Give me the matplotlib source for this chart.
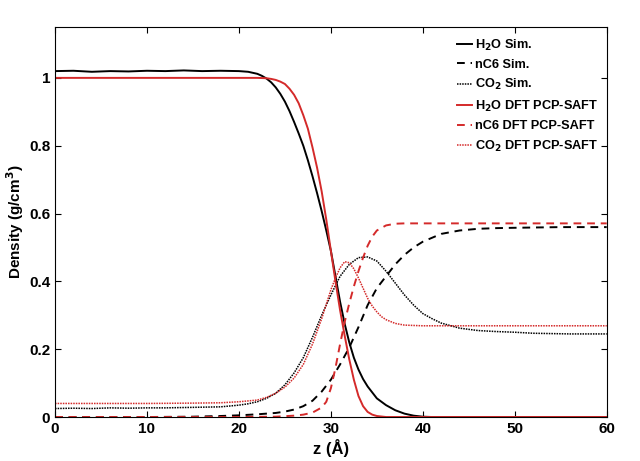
import numpy as np
import matplotlib
matplotlib.use("Agg")
import matplotlib.pyplot as plt

plt.rcParams['font.family'] = ['Liberation Sans', 'DejaVu Sans']
plt.rcParams['font.weight'] = 'bold'
plt.rcParams['mathtext.default'] = 'bf'

# H2O simulation
z_h2o_sim = [0, 2, 4, 6, 8, 10, 12, 14, 16, 18, 20, 21, 22, 22.5, 23, 23.5, 24, 24.5, 25,
             25.5, 26, 26.5, 27, 27.5, 28, 28.5, 29, 29.5, 30, 30.5, 31, 31.5, 32, 32.5, 33,
             33.5, 34, 35, 36, 37, 38, 39, 40, 41, 45, 50, 55, 60]
rho_h2o_sim = [1.02, 1.021, 1.018, 1.02, 1.019, 1.021, 1.02, 1.022, 1.02, 1.021, 1.02, 1.018,
               1.012, 1.006, 0.998, 0.987, 0.972, 0.953, 0.93, 0.902, 0.87, 0.836, 0.8, 0.757,
               0.71, 0.66, 0.607, 0.55, 0.49, 0.415, 0.34, 0.275, 0.22, 0.175, 0.14, 0.112,
               0.09, 0.055, 0.035, 0.02, 0.01, 0.004, 0.001, 0.0, 0.0, 0.0, 0.0, 0.0]

# nC6 simulation
z_nc6_sim = [0, 10, 15, 18, 20, 22, 24, 25, 26, 27, 28, 29, 30, 31, 32, 33, 34, 35, 36, 37,
             38, 39, 40, 42, 44, 46, 48, 50, 55, 60]
rho_nc6_sim = [0.0, 0.0, 0.001, 0.003, 0.005, 0.008, 0.012, 0.016, 0.022, 0.032, 0.048, 0.075,
               0.11, 0.155, 0.205, 0.265, 0.33, 0.38, 0.415, 0.45, 0.478, 0.5, 0.517, 0.54,
               0.55, 0.555, 0.557, 0.558, 0.56, 0.56]

# CO2 simulation
z_co2_sim = [0, 2, 4, 6, 8, 10, 12, 14, 16, 18, 20, 21, 22, 23, 24, 25, 26, 27, 28, 29, 30,
             31, 32, 33, 34, 35, 36, 37, 38, 39, 40, 41, 42, 44, 46, 48, 50, 52, 54, 56, 58, 60]
rho_co2_sim = [0.025, 0.026, 0.025, 0.027, 0.026, 0.027, 0.027, 0.028, 0.029, 0.03, 0.035,
               0.039, 0.045, 0.055, 0.07, 0.095, 0.13, 0.175, 0.235, 0.3, 0.36, 0.415, 0.45,
               0.47, 0.472, 0.46, 0.43, 0.395, 0.36, 0.33, 0.305, 0.29, 0.277, 0.262, 0.255,
               0.252, 0.25, 0.247, 0.246, 0.245, 0.245, 0.245]

# H2O DFT
z_h2o_dft = [0, 5, 10, 15, 20, 22, 23, 23.5, 24, 24.5, 25, 25.5, 26, 26.5, 27, 27.5, 28,
             28.5, 29, 29.5, 30, 30.5, 31, 31.5, 32, 32.5, 33, 33.5, 34, 34.5, 35, 36, 40,
             50, 60]
rho_h2o_dft = [1.0, 1.0, 1.0, 1.0, 1.0, 1.0, 0.999, 0.997, 0.994, 0.989, 0.982, 0.968, 0.95,
               0.925, 0.89, 0.85, 0.795, 0.735, 0.665, 0.582, 0.49, 0.4, 0.315, 0.24, 0.17,
               0.11, 0.062, 0.032, 0.015, 0.007, 0.003, 0.0, 0.0, 0.0, 0.0]

# nC6 DFT
z_nc6_dft = [0, 10, 20, 24, 26, 27, 28, 29, 29.5, 30, 30.5, 31, 31.5, 32, 32.5, 33, 33.5,
             34, 34.5, 35, 36, 37, 38, 40, 50, 60]
rho_nc6_dft = [0.0, 0.0, 0.0, 0.001, 0.004, 0.007, 0.013, 0.028, 0.045, 0.085, 0.145, 0.215,
               0.28, 0.335, 0.385, 0.43, 0.47, 0.505, 0.532, 0.55, 0.565, 0.57, 0.571, 0.571,
               0.571, 0.571]

# CO2 DFT
z_co2_dft = [0, 5, 10, 15, 18, 20, 22, 23, 24, 25, 26, 27, 28, 29, 30, 30.5, 31, 31.5, 32,
             32.5, 33, 33.5, 34, 34.5, 35, 35.5, 36, 37, 38, 40, 45, 50, 55, 60]
rho_co2_dft = [0.04, 0.04, 0.04, 0.041, 0.042, 0.045, 0.05, 0.058, 0.07, 0.088, 0.115, 0.155,
               0.215, 0.29, 0.375, 0.41, 0.44, 0.458, 0.455, 0.437, 0.41, 0.38, 0.35, 0.327,
               0.31, 0.296, 0.287, 0.276, 0.271, 0.269, 0.269, 0.269, 0.269, 0.269]

red = '#d42a2a'
dots = (0, (1, 0.7))

fig = plt.figure(figsize=(6.4, 4.61), dpi=100)
ax = fig.add_axes([0.086, 0.0954, 0.862, 0.846])

ax.plot(z_h2o_sim, rho_h2o_sim, color='black', lw=1.4, label=r'H$_2$O Sim.')
ax.plot(z_nc6_sim, rho_nc6_sim, color='black', lw=1.4, ls=(0, (4, 3)), label='nC6 Sim.')
ax.plot(z_co2_sim, rho_co2_sim, color='black', lw=1.1, ls=dots, label=r'CO$_2$ Sim.')
ax.plot(z_h2o_dft, rho_h2o_dft, color=red, lw=1.4, label=r'H$_2$O DFT PCP-SAFT')
ax.plot(z_nc6_dft, rho_nc6_dft, color=red, lw=1.4, ls=(0, (4, 3)), label='nC6 DFT PCP-SAFT')
ax.plot(z_co2_dft, rho_co2_dft, color=red, lw=1.1, ls=dots, label=r'CO$_2$ DFT PCP-SAFT')

ax.set_xlim(0, 60)
ax.set_ylim(0, 1.15)
ax.set_xticks(np.arange(0, 61, 10))
ax.set_yticks([0, 0.2, 0.4, 0.6, 0.8, 1.0])
ax.set_yticklabels(['0', '0.2', '0.4', '0.6', '0.8', '1'])
ax.tick_params(direction='in', top=True, right=True, labelsize=11, length=4)
for lab in ax.get_xticklabels() + ax.get_yticklabels():
    lab.set_fontweight('bold')
ax.set_xlabel('z (Å)', fontsize=12, fontweight='bold', labelpad=2)
ax.set_ylabel(r'Density (g/cm$^3$)', fontsize=11, fontweight='bold', labelpad=2)

leg = ax.legend(loc='upper right', bbox_to_anchor=(0.998, 0.993), frameon=False,
                fontsize=9.2, handlelength=1.15, handletextpad=0.2, labelspacing=0.5,
                borderaxespad=0.2)
for t in leg.get_texts():
    t.set_fontweight('bold')

fig.savefig('out.png', dpi=100)
